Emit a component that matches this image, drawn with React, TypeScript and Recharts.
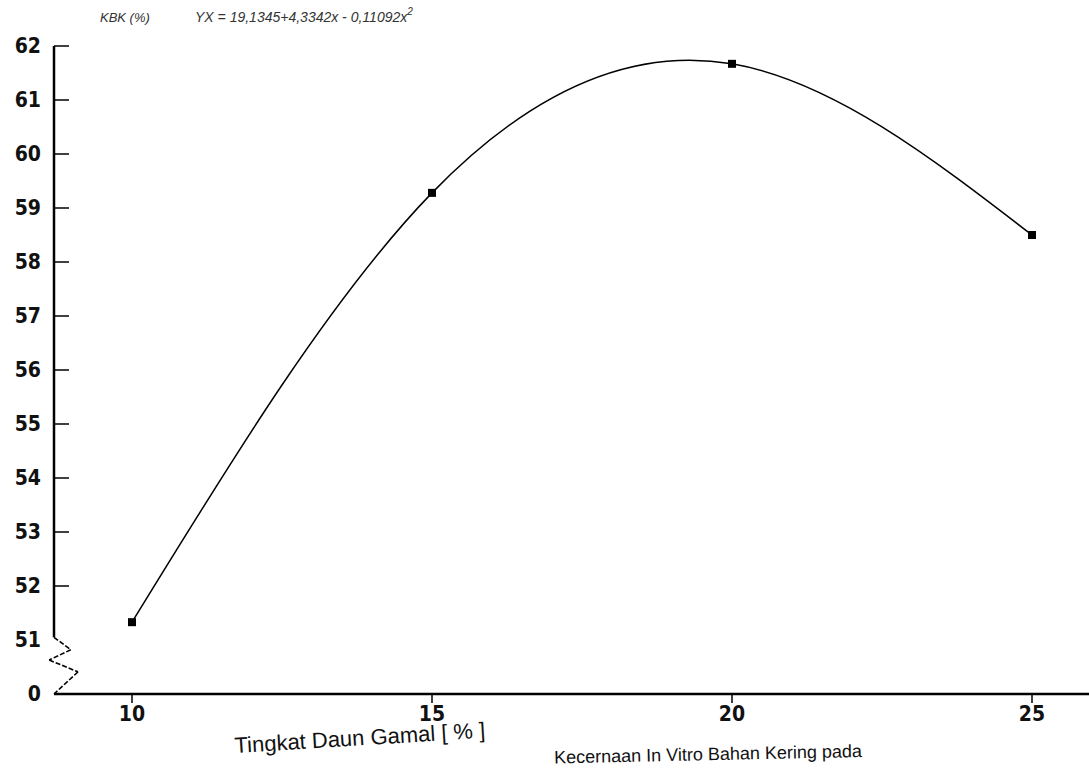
import React from 'react';
import { LineChart, Line, XAxis, YAxis, ReferenceLine } from 'recharts';

const levels = [10, 15, 20, 25];
const kbk = [51.33, 59.28, 61.67, 58.5];
const yTicks = [50, 51, 52, 53, 54, 55, 56, 57, 58, 59, 60, 61, 62];
const xTicks = [10, 15, 20, 25];
const breakPath = [
  { x: 8.7, y: 51.05 },
  { x: 8.98, y: 50.82 },
  { x: 8.62, y: 50.63 },
  { x: 9.1, y: 50.41 },
  { x: 8.7, y: 50.0 },
];

const data = levels.map((l, i) => ({ level: l, kbk: kbk[i] }));

const FONT = '"Liberation Sans Narrow", "DejaVu Sans Condensed", "Liberation Sans", sans-serif';

const YTick = (props: any) => {
  const { x, y, payload } = props;
  const v = payload.value;
  const label = v === 50 ? '0' : String(v);
  return (
    <g>
      {v > 51 && <line x1={x} y1={y} x2={x + 15} y2={y} stroke="#000" strokeWidth={1.5} />}
      <text x={x - 13} y={y} dy={7} textAnchor="end" fontFamily={FONT} fontWeight="bold" fontSize={21} fill="#111">
        {label}
      </text>
    </g>
  );
};

const XTick = (props: any) => {
  const { x, y, payload } = props;
  return (
    <text x={x} y={y} dy={16} textAnchor="middle" fontFamily={FONT} fontWeight="bold" fontSize={21} fill="#111">
      {String(payload.value)}
    </text>
  );
};

const SquareDot = (props: any) => {
  const { cx, cy } = props;
  if (cx == null || cy == null) return null;
  return <rect x={cx - 4} y={cy - 4} width={8} height={8} fill="#000" />;
};

export default function App() {
  return (
    <div style={{ position: 'absolute', left: 0, top: 0, width: 1089, height: 770, background: '#fff', overflow: 'hidden' }}>
      <LineChart width={1089} height={770} data={data} margin={{ top: 46, right: 0, bottom: 46, left: 8 }}>
        <XAxis
          dataKey="level"
          type="number"
          domain={[8.7, 25.95]}
          ticks={xTicks}
          allowDataOverflow
          height={30}
          axisLine={{ stroke: '#000', strokeWidth: 2.5 }}
          tickLine={{ stroke: '#000', strokeWidth: 1.5 }}
          tickSize={9}
          tick={<XTick />}
        />
        <YAxis
          type="number"
          domain={[50, 62]}
          ticks={yTicks}
          allowDataOverflow
          width={46}
          axisLine={false}
          tickLine={false}
          tickSize={0}
          tickMargin={0}
          tick={<YTick />}
        />
        <ReferenceLine
          segment={[{ x: 8.7, y: 51.05 }, { x: 8.7, y: 62 }]}
          stroke="#000"
          strokeWidth={2.5}
          ifOverflow="visible"
        />
        {breakPath.slice(0, -1).map((p, i) => (
          <ReferenceLine
            key={i}
            segment={[p, breakPath[i + 1]]}
            stroke="#000"
            strokeWidth={1.6}
            strokeDasharray="5 2"
            ifOverflow="visible"
          />
        ))}
        <Line
          type="natural"
          dataKey="kbk"
          stroke="#000"
          strokeWidth={1.5}
          dot={<SquareDot />}
          activeDot={false}
          isAnimationActive={false}
        />
      </LineChart>
      <svg width={1089} height={770} style={{ position: 'absolute', left: 0, top: 0, pointerEvents: 'none' }}>
        <text x={100} y={22} fontFamily='"Liberation Sans", sans-serif' fontStyle="italic" fontSize={13} fill="#333">KBK (%)</text>
        <text x={195} y={22} fontFamily='"Liberation Sans", sans-serif' fontStyle="italic" fontSize={14} fill="#333">
          YX = 19,1345+4,3342x - 0,11092x
          <tspan dy={-7} fontSize={10}>2</tspan>
        </text>
        <text x={235} y={753} transform="rotate(-3.5 235 753)" fontFamily='"Liberation Sans", sans-serif' fontSize={22} fill="#111">
          Tingkat Daun Gamal [ % ]
        </text>
        <text x={862} y={757} textAnchor="end" transform="rotate(-1.2 862 757)" fontFamily='"Liberation Sans", sans-serif' fontSize={18} fill="#111">
          Kecernaan In Vitro Bahan Kering pada
        </text>
      </svg>
    </div>
  );
}
